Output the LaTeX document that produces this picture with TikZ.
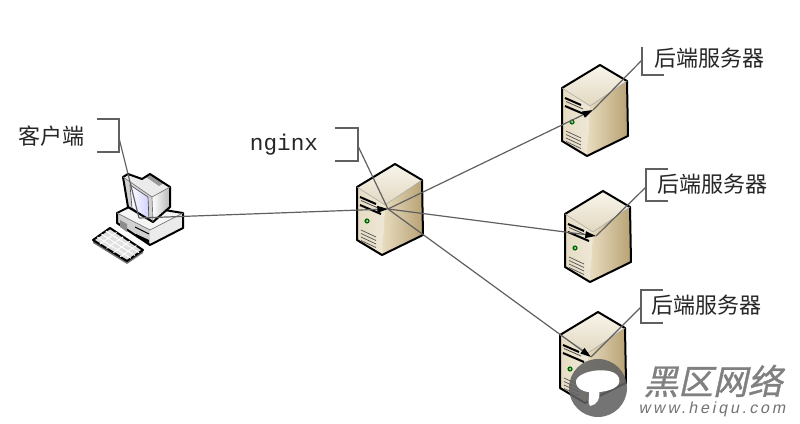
\documentclass[tikz,border=0pt]{standalone}
\usepackage{fontspec}
\usetikzlibrary{arrows.meta,calc}
\setmonofont{Liberation Mono}
\newfontfamily\cjk{Noto Sans CJK SC}
\newfontfamily\wmcjk[FakeSlant=0.22,FakeBold=1]{Noto Sans CJK SC}
\newfontfamily\wmlat[FakeSlant=0.2,LetterSpace=18]{Liberation Sans}
\definecolor{lineg}{HTML}{606060}
\definecolor{topa}{HTML}{F8F5EC}
\definecolor{topb}{HTML}{E2D8C0}
\definecolor{lfa}{HTML}{E6DCC4}
\definecolor{lfb}{HTML}{EFE8D6}
\definecolor{rfa}{HTML}{E8DCC0}
\definecolor{rfb}{HTML}{B8A274}
\tikzset{
  x=0.75pt,y=-0.75pt,
  outline/.style={draw=black,line width=1.5pt,line join=round},
  conn/.style={draw=lineg,line width=0.9pt},
  connarrow/.style={conn,-{Triangle[length=8pt,width=5pt,fill=black,color=black]}},
  bracket/.style={draw=lineg,line width=1pt},
  lab/.style={font=\cjk\fontsize{16.5pt}{18pt}\selectfont,text=black!85,inner sep=0pt,anchor=center},
  server/.pic={
    \shade[left color=lfa,right color=lfb] (-38,23) -- (-10,41) -- (-13,91) -- (-38,76) -- cycle;
    \shade[left color=rfa,right color=rfb] (-10,41) -- (27,16) -- (28,71) -- (-13,91) -- cycle;
    \shade[top color=topa,bottom color=topb] (0,0) -- (27,16) -- (-10,41) -- (-38,23) -- cycle;
    \draw[outline] (0,0) -- (27,16) -- (28,71) -- (-13,91) -- (-38,76) -- (-38,23) -- cycle;
    \draw[black!35,line width=.4pt] (-38,23) -- (-10,41) -- (27,16);
    \draw[black,line width=1.5pt] (-35,33) -- (-19,40);
    \draw[black,line width=1.5pt] (-35,41) -- (-14,50);
    \draw[black!70,line width=.6pt] (-34,36.5) -- (-17,44);
    \fill[black!60!green] (-28,57) circle (2.6);
    \fill[white!80!green] (-28,57) circle (1);
    \foreach \d in {0,3.5,7,10.5}
      \draw[black!65,line width=.55pt] (-34,66+\d) -- (-19,73+\d);
    \coordinate (-hub) at (-7,45);
  },
  computer/.pic={
    % keyboard
    \fill[black!55] (110,228) -- (143,250) -- (143,253) -- (127,264) -- (93,243) -- (93,241) -- cycle;
    \draw[outline,fill=black!12] (110,228) -- (143,250) -- (127,261) -- (93,240) -- cycle;
    \foreach \t in {.2,.4,.6,.8}
      \draw[white,line width=.7pt] ($(110,228)!\t!(143,250)$) -- ($(93,240)!\t!(127,261)$);
    \foreach \t in {.25,.5,.75}
      \draw[white,line width=.7pt] ($(110,228)!\t!(93,240)$) -- ($(143,250)!\t!(127,261)$);
    % base
    \fill[black!4] (117,213) -- (133,205) -- (183,213) -- (150,230) -- cycle;
    \fill[black!18] (117,213) -- (150,230) -- (150,245) -- (117,223) -- cycle;
    \fill[black!8] (150,230) -- (183,213) -- (183,228) -- (150,245) -- cycle;
    \draw[outline] (117,213) -- (133,205) -- (183,213) -- (183,228) -- (150,245) -- (117,223) -- cycle;
    \draw[black!55,line width=.5pt] (117,213) -- (150,230) -- (183,213);
    \fill[black!45] (120,220) -- (127,224) -- (127,232) -- (120,227) -- cycle;
    \fill[black] (136,234) -- (149,240) -- (149,243) -- (136,237) -- cycle;
    \draw[black,line width=.7pt] (135,227) -- (149,234);
    % monitor
    \fill[black!18] (123,177) -- (152,197) -- (153,222) -- (128,207) -- cycle;
    \fill[black!8] (123,177) -- (128,174) -- (142,179) -- (150,174) -- (170,187) -- (152,197) -- cycle;
    \shade[left color=white,right color=black!28] (152,197) -- (170,187) -- (170,207) -- (153,222) -- cycle;
    \fill[black!40] (146,177) -- (151,175) -- (164,183) -- (159,186) -- cycle;
    \shade[left color=white,right color=blue!18] (130,185) -- (148,197) -- (149,220) -- (132,208) -- cycle;
    \draw[black!70,line width=.5pt] (130,185) -- (148,197) -- (149,220) -- (132,208) -- cycle;
    \draw[outline] (123,177) -- (128,174) -- (142,179) -- (150,174) -- (170,187) -- (170,207) -- (153,222) -- (128,207) -- cycle;
    \draw[black!55,line width=.5pt] (123,177) -- (152,197) -- (153,222);
    \draw[black!55,line width=.5pt] (152,197) -- (170,187);
    \coordinate (-hub) at (139,218);
  }
}
\begin{document}
\begin{tikzpicture}
\useasboundingbox (0,0) rectangle (800,424);
\fill[white] (0,0) rectangle (800,424);
% devices
\pic (pc) at (0,0) {computer};
\pic (ng) at (395,164) {server};
\pic (s1) at (600,65) {server};
\pic (s2) at (603,191) {server};
\pic (s3) at (598,312) {server};
% labels
\node[lab] (lc) at (51,136) {客户端};
\node[lab] (l1) at (709.5,58) {后端服务器};
\node[lab] (l2) at (712.5,184) {后端服务器};
\node[lab] (l3) at (706.5,305) {后端服务器};
\node[font=\ttfamily\fontsize{17pt}{18pt}\selectfont,text=black!85,inner sep=0pt] (ln) at (284,145) {nginx};
% brackets
\coordinate (bc) at (119,138);
\coordinate (bn) at (358,146);
\coordinate (b1) at (642,60);
\coordinate (b2) at (646,187);
\coordinate (b3) at (641,307);
\draw[bracket] (97,119) -- (119,119) -- (119,152) -- (97,152);
\draw[bracket] (335,128) -- (358,128) -- (358,161) -- (335,161);
\draw[bracket] (642,47) -- (642,75) -- (664,75);
\draw[bracket] (668,169) -- (646,169) -- (646,201) -- (668,201);
\draw[bracket] (663,290) -- (641,290) -- (641,323) -- (663,323);
% connectors
\draw[conn] (bc) -- (pc-hub);
\draw[conn] (bn) -- (ng-hub);
\draw[conn] (b1) -- (s1-hub);
\draw[conn] (b2) -- (s2-hub);
\draw[conn] (b3) -- (s3-hub);
\draw[connarrow] (pc-hub) -- (ng-hub);
\draw[connarrow] (ng-hub) -- (s1-hub);
\draw[connarrow] (ng-hub) -- (s2-hub);
\draw[connarrow] (ng-hub) -- (s3-hub);
% watermark
\fill[black!62,fill opacity=.88] (598,388) circle (29);
\fill[white] (576,381) .. controls (578,370) and (614,365) .. (619,378) .. controls (622,388) and (608,391) .. (600,392) .. controls (590,394) and (575,391) .. (576,381) -- cycle;
\fill[white] (599,391) .. controls (601,398) and (597,405) .. (590,406) .. controls (587,402) and (590,396) .. (589,391) -- cycle;
\node[font=\wmcjk\fontsize{26pt}{28pt}\selectfont,text=black!50,inner sep=0pt] (wm1) at (713,381) {黑区网络};
\node[font=\wmlat\fontsize{12pt}{14pt}\selectfont,text=black!55,inner sep=0pt] (wm2) at (712,409) {www.heiqu.com};
\end{tikzpicture}
\end{document}
